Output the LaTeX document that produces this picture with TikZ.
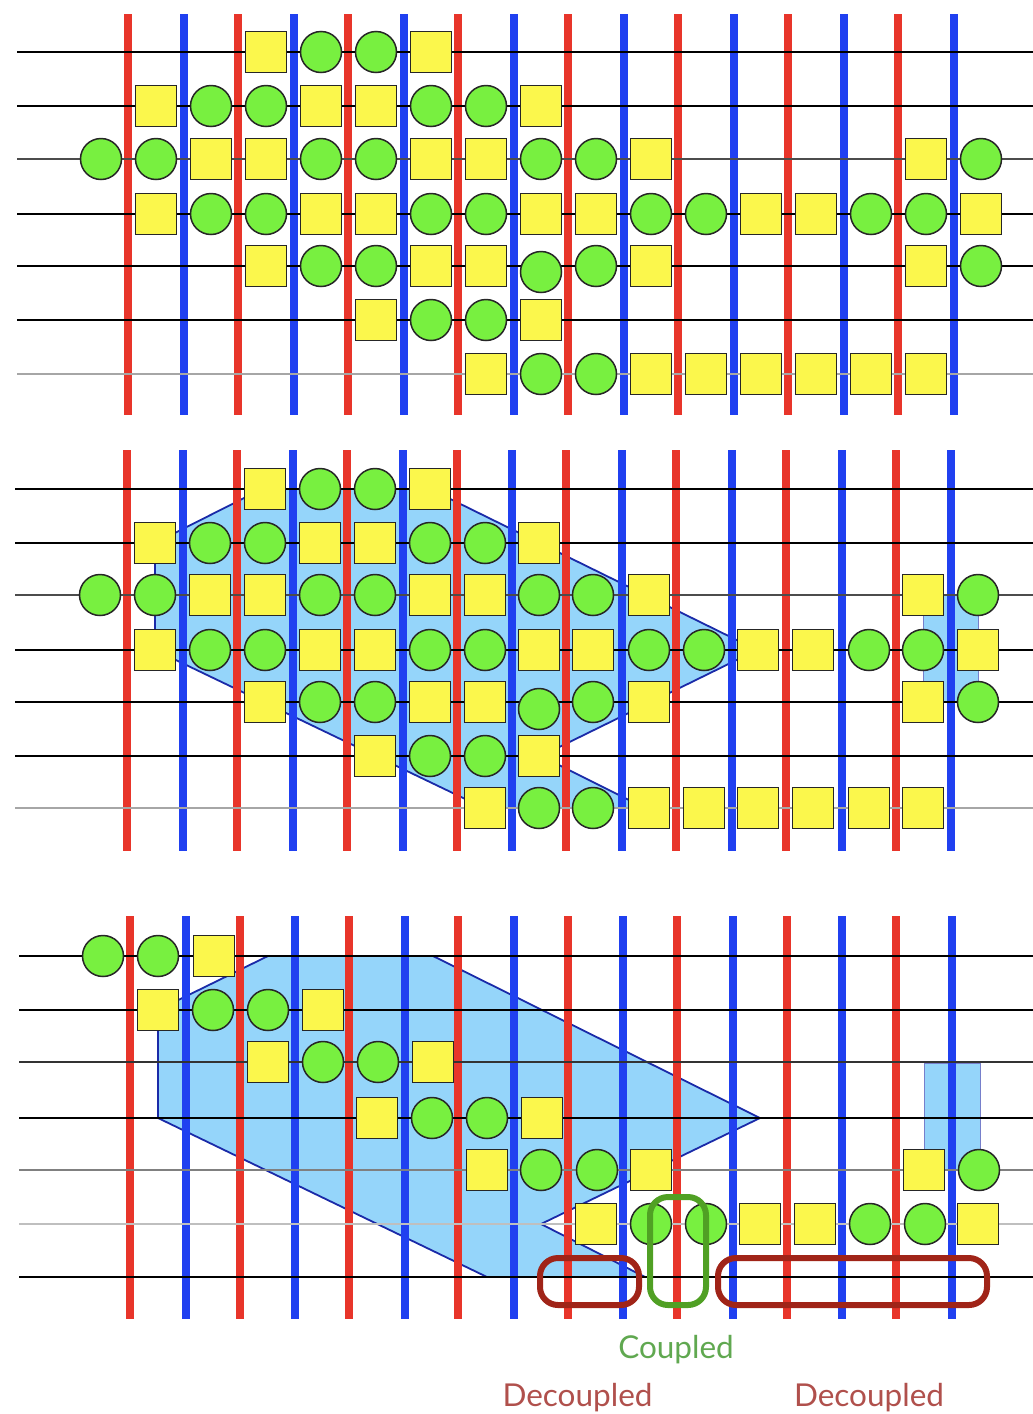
\documentclass[tikz,border=0pt]{standalone}
\usepackage{fontspec}
\setmainfont{Lato}
\usepackage{xcolor}
\definecolor{ctrlred}{HTML}{E8352A}
\definecolor{ctrlblue}{HTML}{2040F0}
\definecolor{patch}{HTML}{95D5FA}
\definecolor{patchedge}{HTML}{1A2AA8}
\definecolor{gatey}{HTML}{FBF74C}
\definecolor{gateg}{HTML}{78F040}
\definecolor{boxred}{HTML}{A02418}
\definecolor{boxgreen}{HTML}{50A024}
\definecolor{txtred}{HTML}{B0504C}
\definecolor{txtgreen}{HTML}{60A850}
\tikzset{
  wire/.style={draw=#1, line width=1.3pt},
  redln/.style={draw=ctrlred, line width=8pt},
  blueln/.style={draw=ctrlblue, line width=8pt},
  gateS/.style={draw=black!85, fill=gatey, line width=1.5pt, minimum size=41pt, inner sep=0pt},
  gateC/.style={draw=black!85, fill=gateg, circle, line width=1.5pt, minimum size=41pt, inner sep=0pt},
  region/.style={draw=patchedge, fill=patch, line width=1.8pt, line join=miter},
  subregion/.style={draw=patchedge!60, fill=patch, line width=1pt},
  oval/.style={draw=#1, line width=6pt, rounded corners=18pt, inner sep=0pt},
  lbl/.style={inner sep=0pt, font=\fontsize{31.5}{32}\selectfont},
}
\newcommand{\wireLine}[4]{
  \coordinate (#1-l) at (#3,#2);
  \coordinate (#1-r) at (1033,#2);
  \draw[wire=#4] (#1-l) -- (#1-r);
}
\newcommand{\ctrlLines}[5]{
  \foreach \x in {#4} {
    \coordinate (#1-r\x-t) at (\x,#2);
    \coordinate (#1-r\x-b) at (\x,#3);
    \draw[redln] (#1-r\x-t) -- (#1-r\x-b);
  }
  \foreach \x in {#5} {
    \coordinate (#1-b\x-t) at (\x,#2);
    \coordinate (#1-b\x-b) at (\x,#3);
    \draw[blueln] (#1-b\x-t) -- (#1-b\x-b);
  }
}
\newcommand{\gateRow}[3]{
  \foreach \x/\kind in {#3}
    \node[gate\kind] (#1-\x) at (\x,#2) {};
}
\begin{document}
\begin{tikzpicture}[x=1pt, y=-1pt]
\useasboundingbox (0,0) rectangle (1033,1414);

% top circuit
\ctrlLines{a}{14}{415}{128,238,348,458,568,678,788,898}{184,294,404,514,624,734,844,954}
\wireLine{a1}{52}{17}{black}
\wireLine{a2}{106}{17}{black}
\wireLine{a3}{159}{17}{black!70}
\wireLine{a4}{214}{17}{black}
\wireLine{a5}{266}{17}{black}
\wireLine{a6}{320}{17}{black}
\wireLine{a7}{374}{17}{black!35}
\gateRow{a1}{52}{266/S,321/C,376/C,431/S}
\gateRow{a2}{106}{156/S,211/C,266/C,321/S,376/S,431/C,486/C,541/S}
\gateRow{a3}{159}{101/C,156/C,211/S,266/S,321/C,376/C,431/S,486/S,541/C,596/C,651/S,926/S,981/C}
\gateRow{a4}{214}{156/S,211/C,266/C,321/S,376/S,431/C,486/C,541/S,596/S,651/C,706/C,761/S,816/S,871/C,926/C,981/S}
\gateRow{a5}{266}{266/S,321/C,376/C,431/S,486/S,596/C,651/S,926/S,981/C}
\gateRow{a5}{272}{541/C}
\gateRow{a6}{320}{376/S,431/C,486/C,541/S}
\gateRow{a7}{374}{486/S,541/C,596/C,651/S,706/S,761/S,816/S,871/S,926/S}

% middle circuit
\draw[region] (262,489) -- (430,489) -- (757,650) -- (541,756) -- (645,808) -- (484,808) -- (155,650) -- (155,543) -- cycle;
\draw[subregion] (923,595) rectangle (978,702);
\ctrlLines{b}{450}{851}{127,237,347,457,566,676,786,896}{183,293,403,512,622,732,842,951}
\wireLine{b1}{489}{15}{black}
\wireLine{b2}{543}{15}{black}
\wireLine{b3}{595}{15}{black!70}
\wireLine{b4}{650}{15}{black}
\wireLine{b5}{702}{15}{black}
\wireLine{b6}{756}{15}{black}
\wireLine{b7}{808}{15}{black!35}
\gateRow{b1}{489}{265/S,320/C,375/C,430/S}
\gateRow{b2}{543}{155/S,210/C,265/C,320/S,375/S,430/C,485/C,539/S}
\gateRow{b3}{595}{100/C,155/C,210/S,265/S,320/C,375/C,430/S,485/S,539/C,593/C,649/S,923/S,978/C}
\gateRow{b4}{650}{155/S,210/C,265/C,320/S,375/S,430/C,485/C,539/S,593/S,649/C,704/C,758/S,813/S,869/C,923/C,978/S}
\gateRow{b5}{702}{265/S,320/C,375/C,430/S,485/S,593/C,649/S,923/S,978/C}
\gateRow{b5}{709}{539/C}
\gateRow{b6}{756}{375/S,430/C,485/C,539/S}
\gateRow{b7}{808}{485/S,539/C,593/C,649/S,704/S,758/S,813/S,869/S,923/S}

% bottom circuit
\draw[region] (268,956) -- (433,956) -- (760,1118) -- (541,1224) -- (645,1277) -- (487,1277) -- (158,1118) -- (158,1010) -- cycle;
\draw[subregion] (924,1063) rectangle (980,1170);
\ctrlLines{c}{916}{1319}{130,240,349,458,568,677,787,896}{186,295,405,514,623,733,842,952}
\wireLine{c1}{956}{19}{black}
\wireLine{c2}{1010}{19}{black}
\wireLine{c3}{1062}{19}{black!80}
\wireLine{c4}{1118}{19}{black}
\wireLine{c5}{1170}{19}{black!50}
\wireLine{c6}{1224}{19}{black!25}
\wireLine{c7}{1277}{19}{black}
\gateRow{c1}{956}{103/C,158/C,214/S}
\gateRow{c2}{1010}{158/S,213/C,268/C,323/S}
\gateRow{c3}{1062}{268/S,323/C,378/C,433/S}
\gateRow{c4}{1118}{377/S,432/C,487/C,542/S}
\gateRow{c5}{1170}{487/S,541/C,597/C,651/S,924/S,979/C}
\gateRow{c6}{1224}{596/S,651/C,706/C,760/S,815/S,870/C,925/C,978/S}

\node[oval=boxred, minimum width=99pt, minimum height=47pt] (decleft) at (589.5,1281.5) {};
\node[oval=boxred, minimum width=269pt, minimum height=47pt] (decright) at (852.5,1281.5) {};
\node[oval=boxgreen, minimum width=56pt, minimum height=108pt] (coup) at (678,1251) {};

\node[lbl, text=txtgreen] (couptxt) at (676,1350) {Coupled};
\node[lbl, text=txtred] (decleftxt) at (577.5,1398) {Decoupled};
\node[lbl, text=txtred] (decrighttxt) at (869,1398) {Decoupled};
\end{tikzpicture}
\end{document}
